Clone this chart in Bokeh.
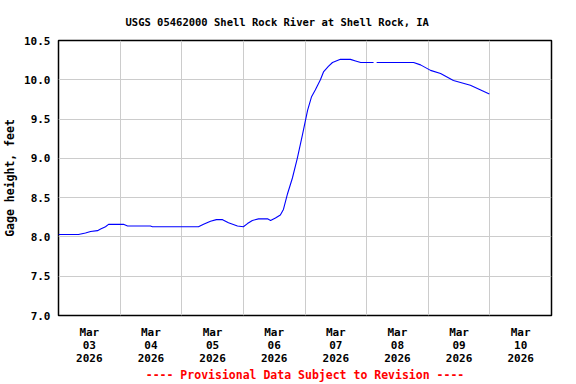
from bokeh.plotting import figure
from bokeh.models import FixedTicker, Range1d, ColumnDataSource
from bokeh.embed import file_html
from bokeh.resources import INLINE

# hours since Mar 03 2026 00:00
hours = [0, 7.8, 10.5, 12.5, 15.2, 16.4, 18.3, 19.5, 25.3, 26.9, 35.8, 36.6, 54.5, 56.5,
         59.2, 61.5, 63.9, 66.2, 69.7, 72.0, 73.6, 75.5, 77.9, 81.4, 82.6, 84.5, 86.4,
         87.6, 89.2, 91.1, 93.0, 95.0, 97.0, 98.5, 100.0, 102.0, 103.2, 105.1, 106.7,
         109.8, 113.7, 115.7, 117.7, 122.7, 123.3, 123.9, 138.3, 141.0, 144.9, 148.8,
         153.8, 160.4, 167.8]
stage = [8.03, 8.03, 8.05, 8.07, 8.08, 8.10, 8.13, 8.16, 8.16, 8.14, 8.14, 8.13, 8.13, 8.16,
         8.20, 8.22, 8.22, 8.18, 8.14, 8.13, 8.17, 8.21, 8.23, 8.23, 8.21, 8.24, 8.28,
         8.35, 8.55, 8.75, 9.00, 9.30, 9.61, 9.78, 9.87, 10.00, 10.10, 10.17, 10.22,
         10.26, 10.26, 10.24, 10.22, 10.22, float("nan"), 10.22, 10.22, 10.19, 10.12, 10.08,
         9.99, 9.93, 9.82]

day_labels = ["Mar\n03\n2026", "Mar\n04\n2026", "Mar\n05\n2026", "Mar\n06\n2026",
              "Mar\n07\n2026", "Mar\n08\n2026", "Mar\n09\n2026", "Mar\n10\n2026"]
y_ticks = [7.0, 7.5, 8.0, 8.5, 9.0, 9.5, 10.0, 10.5]

title = "USGS 05462000 Shell Rock River at Shell Rock, IA"
note = "---- Provisional Data Subject to Revision ----"
font = "DejaVu Sans Mono"

p = figure(width=576, height=384, output_backend="svg", toolbar_location=None,
           x_range=Range1d(0, 192), y_range=Range1d(7.0, 10.5),
           min_border_left=58, min_border_right=25, min_border_top=40, min_border_bottom=69)

p.title.text = title
p.title.text_font = font
p.title.text_font_size = "10.5px"
p.title.text_font_style = "bold"
p.title.text_color = "black"
p.title.align = "left"
p.title.offset = 67
p.title.standoff = 25

p.outline_line_color = "black"
p.outline_line_width = 1.5
p.background_fill_color = "white"
p.border_fill_color = "white"

noon = [24 * i + 12 for i in range(len(day_labels))]
mid = [24 * i for i in range(9)]
p.xaxis.ticker = FixedTicker(ticks=noon)
p.xaxis.major_label_overrides = {t: lab for t, lab in zip(noon, day_labels)}
p.xgrid.ticker = FixedTicker(ticks=mid)
p.yaxis.ticker = FixedTicker(ticks=y_ticks)
p.yaxis.major_label_overrides = {t: f"{t:.1f}" for t in y_ticks}

for ax in (p.xaxis[0], p.yaxis[0]):
    ax.axis_line_color = None
    ax.major_tick_line_color = None
    ax.minor_tick_line_color = None
    ax.major_tick_out = 0
    ax.major_tick_in = 0
    ax.major_label_text_font = font
    ax.major_label_text_font_size = "11px"
    ax.major_label_text_font_style = "bold"
    ax.major_label_text_color = "black"

p.xaxis.major_label_standoff = 10
p.xaxis.major_label_text_line_height = 1.0
p.xaxis.axis_label = note
p.xaxis.axis_label_text_font = font
p.xaxis.axis_label_text_font_size = "11.5px"
p.xaxis.axis_label_text_font_style = "bold"
p.xaxis.axis_label_text_color = "red"
p.xaxis.axis_label_standoff = 0

p.yaxis.major_label_standoff = 8
p.yaxis.axis_label = "Gage height, feet"
p.yaxis.axis_label_text_font = font
p.yaxis.axis_label_text_font_size = "11.5px"
p.yaxis.axis_label_text_font_style = "bold"
p.yaxis.axis_label_text_color = "black"
p.yaxis.axis_label_standoff = 4

p.xgrid.grid_line_color = "#cccccc"
p.ygrid.grid_line_color = "#cccccc"
p.xgrid.grid_line_width = 1
p.ygrid.grid_line_width = 1

src = ColumnDataSource(dict(x=hours, y=stage))
p.line("x", "y", source=src, line_color="#0000ff", line_width=1.1)

open("out.html", "w").write(file_html(p, INLINE))
